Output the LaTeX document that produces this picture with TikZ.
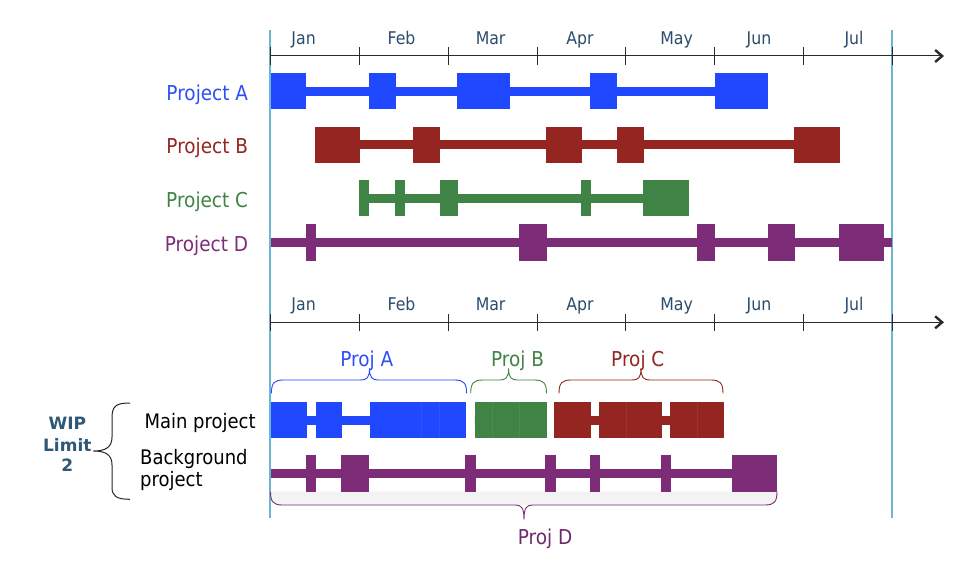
\documentclass[tikz,border=0pt]{standalone}
\usepackage{fontspec}
\setmainfont{DejaVu Sans}[FakeStretch=0.9]
\newfontfamily\wipfont{DejaVu Sans}
\usetikzlibrary{arrows.meta}
\definecolor{pblue}{HTML}{1F48FF}
\definecolor{pbluet}{HTML}{2D4FF5}
\definecolor{pred}{HTML}{952520}
\definecolor{pgreen}{HTML}{3F8444}
\definecolor{ppurple}{HTML}{7D2C78}
\definecolor{ppurplet}{HTML}{6E2A6B}
\definecolor{monthc}{HTML}{2B4C6B}
\definecolor{tealc}{HTML}{6BB6D3}
\definecolor{wipc}{HTML}{2D5878}
\definecolor{axisc}{HTML}{2A2A2A}
\definecolor{bracefill}{HTML}{F3F3F3}
% colour, y centre, x start, x end, list of boxes a/b
\newcommand\projbar[5]{%
  \fill[#1] (#3,#2-4.6) rectangle (#4,#2+4.6);
  \foreach \a/\b in {#5} {\fill[#1] (\a,#2-18.1) rectangle (\b,#2+18.1);}%
}
% colour, x start, x end, x tip  (brace opening downwards, tip up)
\newcommand\topbrace[4]{%
  \draw[#1, line width=0.9pt] (#2,393.3) .. controls (#2,383) and (#2+3,380) .. (#2+12,380)
    -- (#4-9,380) .. controls (#4-3,380) and (#4,378) .. (#4,368.5)
    .. controls (#4,378) and (#4+3,380) .. (#4+9,380)
    -- (#3-12,380) .. controls (#3-3,380) and (#3,383) .. (#3,393.3);%
}
\begin{document}
\begin{tikzpicture}[x=1pt,y=-1pt,
  month/.style={text=monthc, font=\fontsize{17.5}{20}\selectfont, anchor=base, inner sep=0pt},
  plabel/.style={font=\fontsize{20.5}{24}\selectfont, anchor=base east, inner sep=0pt},
  blabel/.style={font=\fontsize{20.5}{24}\selectfont, anchor=base, inner sep=0pt},
  rowlabel/.style={font=\fontsize{20}{24}\selectfont, anchor=base west, inner sep=0pt, text=black},
  wiplabel/.style={text=wipc, font=\wipfont\bfseries\fontsize{17}{20}\selectfont, anchor=base, inner sep=0pt},
  axisline/.style={axisc, line width=1pt, -{Straight Barb[length=7pt,width=12pt,line width=2.4pt]}},
  tickline/.style={axisc, line width=0.9pt},
  limitline/.style={tealc, line width=1.1pt},
  sepline/.style={white, opacity=0.07, line width=0.8pt}]
\useasboundingbox (0,0) rectangle (976,575);
\fill[white] (0,0) rectangle (976,575);

% limit lines
\draw[limitline] (270,30) -- (270,518);
\draw[limitline] (892,30) -- (892,518);

% top axis
\coordinate (ta0) at (270,56);
\coordinate (ta1) at (944,56);
\draw[axisline] (ta0) -- (ta1);
\foreach \k in {0,...,7} \draw[tickline] (270.6+88.8*\k,47.5) -- (270.6+88.8*\k,65);
% bottom axis
\coordinate (ba0) at (270,322.3);
\coordinate (ba1) at (944,322.3);
\draw[axisline] (ba0) -- (ba1);
\foreach \k in {0,...,7} \draw[tickline] (270.6+88.8*\k,314) -- (270.6+88.8*\k,331);

% month labels
\foreach \m/\x [count=\i] in {Jan/303.6, Feb/401.5, Mar/490.6, Apr/580, May/676.6, Jun/759, Jul/854} {
  \node[month] (mt\i) at (\x,45) {\m};
  \node[month] (mb\i) at (\x,310.7) {\m};
}

% project labels
\node[plabel, text=pbluet] (la) at (248.3,100.7) {Project A};
\node[plabel, text=pred] (lb) at (248.3,153.3) {Project B};
\node[plabel, text=pgreen] (lc) at (248.3,207.7) {Project C};
\node[plabel, text=ppurple] (ld) at (248.3,251.7) {Project D};

% project bars
\projbar{pblue}{91.3}{270.7}{714.5}{270.7/306.4, 369/395.7, 457/510, 590/617, 714.5/768}
\projbar{pred}{144.7}{314.5}{839.5}{314.5/360, 412.7/440, 545.7/582.3, 617/644, 794/839.5}
\projbar{pgreen}{198.3}{359}{688.6}{359/369, 394.8/404.6, 439.5/458, 581.4/591.2, 643/688.6}
\projbar{ppurple}{242.5}{270.7}{892}{306.4/316.2, 519/546.6, 696.6/715.4, 767.6/794.8, 838.6/884}

% ---- WIP part ----
\node[wiplabel] (w1) at (67.3,429.3) {WIP};
\node[wiplabel] (w2) at (67.3,451) {Limit};
\node[wiplabel] (w3) at (67.3,471.7) {2};
\draw[black!85, line width=1pt] (130,403) .. controls (116,403) and (112,406) .. (112,418)
  -- (112,437) .. controls (112,447) and (106,451) .. (93.3,451)
  .. controls (106,451) and (112,455) .. (112,465)
  -- (112,487) .. controls (112,496) and (116,499.3) .. (130,499.3);

\node[rowlabel] (main) at (144.3,428.3) {Main project};
\node[rowlabel] (bg1) at (140,464) {Background};
\node[rowlabel] (bg2) at (140,486) {project};

% Proj D brace (behind bars)
\fill[bracefill] (270.5,491.7) .. controls (270.5,502) and (273.5,505) .. (282.5,505)
  -- (765,505) .. controls (774,505) and (777,502) .. (777,491.7) -- cycle;
\draw[ppurple, line width=0.9pt] (270.5,491.7) .. controls (270.5,502) and (273.5,505) .. (282.5,505)
  -- (515,505) .. controls (521,505) and (524,507) .. (524,519.5)
  .. controls (524,507) and (527,505) .. (533,505)
  -- (765,505) .. controls (774,505) and (777,502) .. (777,491.7);
\node[blabel, text=ppurplet] (pd) at (545,544) {Proj D};

% main project bars
\projbar{pblue}{420.3}{271.4}{466}{271.4/306.5, 315.8/342, 369.5/466}
\projbar{pgreen}{420.3}{474.5}{474.5}{474.5/546.5}
\projbar{pred}{420.3}{554.4}{723.8}{554.4/591.3, 599.2/662.2, 669.8/723.8}
\foreach \x in {421.8, 439.8, 492.4, 519, 626, 697.3} \draw[sepline] (\x,402.3) -- (\x,438.3);
% background project bar
\projbar{ppurple}{473.5}{270.5}{777}{305.5/316, 341/369.4, 465.4/476, 545.4/555.5, 590/600, 660.7/670.8, 732/777}

% top braces
\topbrace{pblue}{271.4}{466.6}{369.5}
\topbrace{pgreen}{470.7}{546.5}{508.6}
\topbrace{pred}{559}{723}{641}
\node[blabel, text=pbluet] (pa) at (366.7,366.7) {Proj A};
\node[blabel, text=pgreen] (pb) at (517.6,366.7) {Proj B};
\node[blabel, text=pred] (pc) at (637.8,366.7) {Proj C};
\end{tikzpicture}
\end{document}
